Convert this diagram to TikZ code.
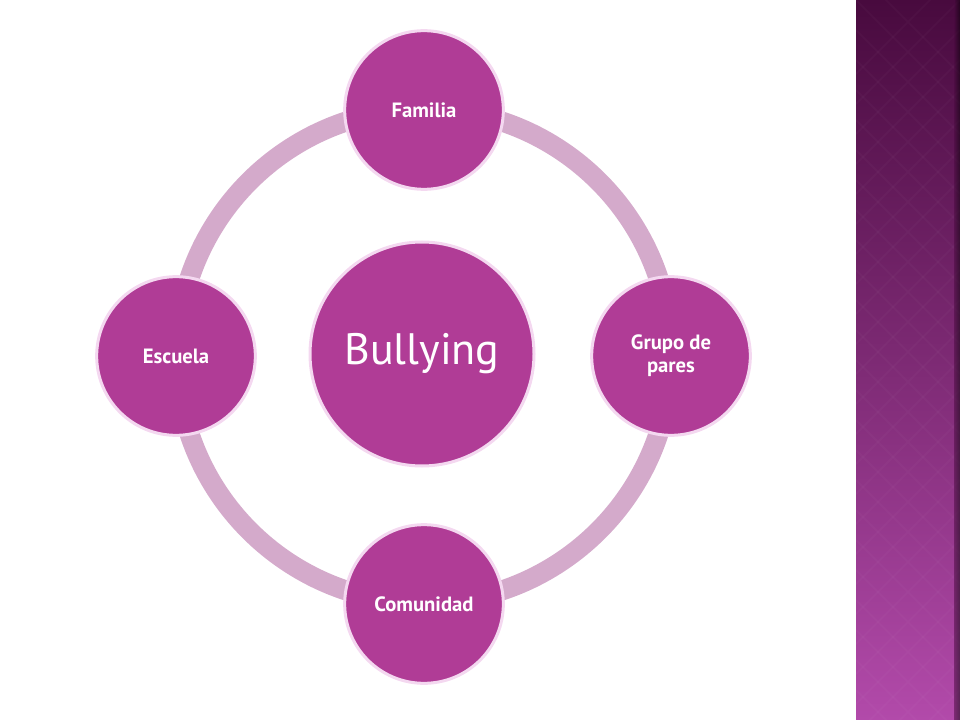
\documentclass[tikz,border=0pt]{standalone}
\usepackage{fontspec}
\setmainfont{PT Sans}
\definecolor{plum}{RGB}{176,60,150}
\definecolor{plumrim}{RGB}{244,216,240}
\definecolor{ringpink}{RGB}{212,170,203}
\definecolor{striptop}{RGB}{72,10,62}
\definecolor{stripbot}{RGB}{178,74,170}
\begin{document}
\begin{tikzpicture}[x=0.75pt,y=-0.75pt,
  topic/.style={circle, draw=plumrim, line width=2.25pt, fill=plum,
    text=white, minimum size=119pt, inner sep=0pt, align=center,
    font=\fontsize{15.5}{17}\selectfont\bfseries},
  hub/.style={topic, minimum size=168pt, font=\fontsize{33}{36}\selectfont}]

\useasboundingbox (0,0) rectangle (960,720);

% side strip
\shade[top color=striptop, bottom color=stripbot] (856,0) rectangle (960,720);
\begin{scope}
\clip (856,0) rectangle (960,720);
\foreach \k in {-30,0,...,900}
  \draw[white, opacity=0.025, line width=1.5pt] (856,\k) -- (960,\k+104)
    (856,\k+104) -- (960,\k);
\end{scope}
\shade[left color=striptop, right color=black, opacity=0.5] (954,0) rectangle (960,720);

% ring
\coordinate (ctr) at (424,356);
\draw[ringpink, line width=15pt] (ctr) circle (247);

% nodes
\node[hub] (bully) at (422,354) {Bullying};
\node[topic] (fam) at (424,110) {Familia};
\node[topic] (grupo) at (671,356) {Grupo de\\pares};
\node[topic] (com) at (424,604) {Comunidad};
\node[topic] (esc) at (176,356) {Escuela};

\end{tikzpicture}
\end{document}
